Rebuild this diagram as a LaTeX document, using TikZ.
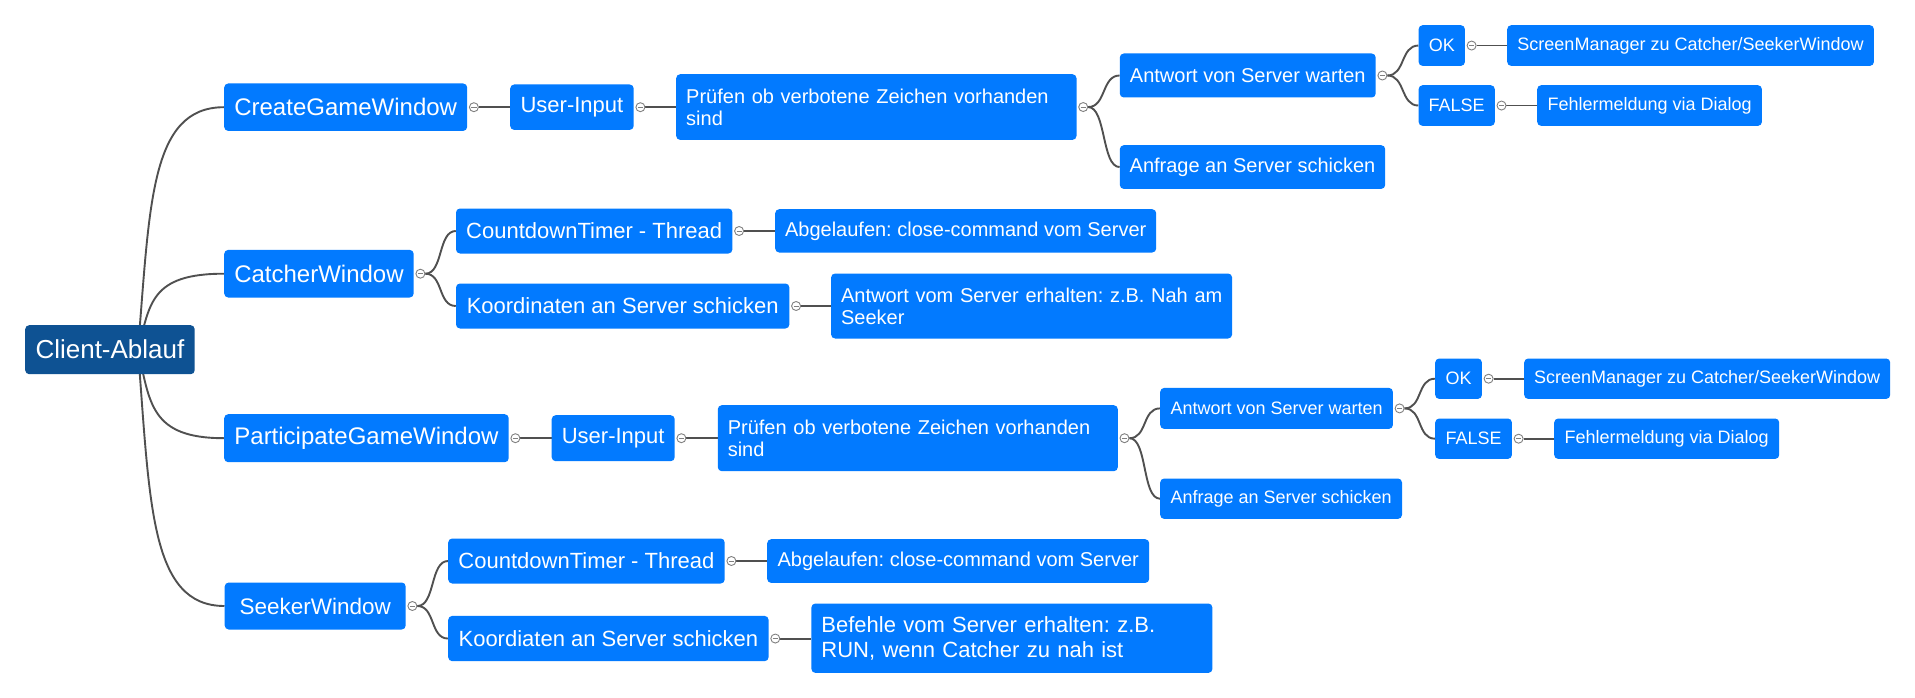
\documentclass[tikz,border=0pt]{standalone}
\usepackage{fontspec}
\setmainfont{Liberation Sans}
\usetikzlibrary{calc,backgrounds}
\definecolor{nodeblue}{RGB}{2,122,255}
\definecolor{rootblue}{RGB}{14,82,147}
\definecolor{linegray}{RGB}{80,80,80}
\definecolor{circgray}{RGB}{128,128,128}
\tikzset{
  nd/.style={fill=nodeblue, text=white, rounded corners=4pt, inner xsep=0pt, inner ysep=0pt, anchor=north west},
  fs/.style={font=\fontsize{#1}{#1}\selectfont},
  ml/.style={align=left, inner xsep=10pt},
  conn/.style={draw=linegray, line width=1.9pt},
  coll/.style={circle, draw=circgray, fill=white, line width=0.9pt, inner sep=0pt, minimum size=9pt,
    path picture={\draw[circgray, line width=1pt] ([xshift=-2.6pt]path picture bounding box.center) -- ([xshift=2.6pt]path picture bounding box.center);}},
}
\newcommand\cnode[1]{\node[coll] (#1c) at ($(#1.east)+(6.5,0)$) {};}
\newcommand\straight[2]{\draw[conn] (#1c.east) -- (#1c.east -| #2.west);}
\newcommand\fork[2]{\draw[conn] (#1c.east) .. controls +(18,0) and +(-18,0) .. (#2.west);}
\newcommand\rootcurve[1]{\draw[conn] ($(root.center)+(28,0)$) .. controls ($(root.center)!0.6!(root.center|-#1.west)+(40,0)$) and ($(root.center|-#1.west)+(40,0)$) .. (#1.west);}
\begin{document}
\frenchspacing\hyphenpenalty=10000
\begin{tikzpicture}[x=1pt,y=-1pt]
\useasboundingbox (0,0) rectangle (1915,698);
% root
\node[nd, fill=rootblue, fs=26, minimum width=169.5pt, minimum height=49pt] (root) at (25,325) {Client-Ablauf};
% level 1
\node[nd, fs=24, minimum width=243pt, minimum height=47.4pt] (cgw) at (224,83.3) {CreateGameWindow};
\node[nd, fs=24, minimum width=189.5pt, minimum height=47.6pt] (cw) at (224,249.7) {CatcherWindow};
\node[nd, fs=24, minimum width=284.5pt, minimum height=48pt] (pgw) at (224,414) {ParticipateGameWindow};
\node[nd, fs=22.5, minimum width=181pt, minimum height=47pt] (sw) at (224.5,582.3) {SeekerWindow};
% create branch
\node[nd, fs=22, minimum width=123.5pt, minimum height=45.4pt] (ui1) at (510,84.3) {User-Input};
\node[nd, ml, font=\fontsize{20}{22}\selectfont, text width=380.3pt, minimum width=400.3pt, minimum height=65.7pt] (pr1) at (676,74) {\mbox{Prüfen ob verbotene Zeichen vorhanden}\\sind};
\node[nd, fs=20, minimum width=255.9pt, minimum height=44pt] (aw1) at (1119.6,53.3) {Antwort von Server warten};
\node[nd, fs=20, minimum width=265.4pt, minimum height=43.7pt] (an1) at (1119.6,145) {Anfrage an Server schicken};
\node[nd, fs=18, minimum width=46.3pt, minimum height=40.7pt] (ok1) at (1418.4,25) {OK};
\node[nd, fs=18, minimum width=76.2pt, minimum height=40.7pt] (fa1) at (1418.4,85) {FALSE};
\node[nd, fs=18, minimum width=366.7pt, minimum height=40.7pt] (sm1) at (1507,25) {ScreenManager zu Catcher/SeekerWindow};
\node[nd, fs=18, minimum width=224.7pt, minimum height=40.7pt] (fm1) at (1537,85) {Fehlermeldung via Dialog};
% catcher branch
\node[nd, fs=22, minimum width=276.4pt, minimum height=45pt] (ct1) at (455.8,208.3) {CountdownTimer - Thread};
\node[nd, fs=20, minimum width=381pt, minimum height=43.3pt] (ab1) at (775,209) {Abgelaufen: close-command vom Server};
\node[nd, fs=22, minimum width=333.4pt, minimum height=45pt] (ko1) at (455.8,283.3) {Koordinaten an Server schicken};
\node[nd, ml, font=\fontsize{20}{22}\selectfont, text width=381pt, minimum width=401pt, minimum height=65pt] (ae1) at (830.9,273.3) {\mbox{Antwort vom Server erhalten: z.B. Nah am}\\Seeker};
% participate branch
\node[nd, fs=22, minimum width=123pt, minimum height=46pt] (ui2) at (551.5,415) {User-Input};
\node[nd, ml, font=\fontsize{20}{22}\selectfont, text width=380pt, minimum width=400pt, minimum height=66pt] (pr2) at (717.6,405) {\mbox{Prüfen ob verbotene Zeichen vorhanden}\\sind};
\node[nd, fs=18, minimum width=232.7pt, minimum height=41pt] (aw2) at (1160,387.7) {Antwort von Server warten};
\node[nd, fs=18, minimum width=241.8pt, minimum height=40.4pt] (an2) at (1160,478.3) {Anfrage an Server schicken};
\node[nd, fs=18, minimum width=46.7pt, minimum height=40.4pt] (ok2) at (1435,358.3) {OK};
\node[nd, fs=18, minimum width=76.7pt, minimum height=40.4pt] (fa2) at (1435,418.3) {FALSE};
\node[nd, fs=18, minimum width=366pt, minimum height=40.4pt] (sm2) at (1524,358.3) {ScreenManager zu Catcher/SeekerWindow};
\node[nd, fs=18, minimum width=225pt, minimum height=40.4pt] (fm2) at (1554,418.3) {Fehlermeldung via Dialog};
% seeker branch
\node[nd, fs=22, minimum width=276.5pt, minimum height=45pt] (ct2) at (448,538.3) {CountdownTimer - Thread};
\node[nd, fs=20, minimum width=382pt, minimum height=43.7pt] (ab2) at (767,539) {Abgelaufen: close-command vom Server};
\node[nd, fs=22, minimum width=320.4pt, minimum height=45.3pt] (ko2) at (448,615.7) {Koordiaten an Server schicken};
\node[nd, ml, font=\fontsize{22}{24.5}\selectfont, text width=381pt, minimum width=401pt, minimum height=69.4pt] (be2) at (811.2,603.3) {\mbox{Befehle vom Server erhalten: z.B.}\\RUN, wenn Catcher zu nah ist};
% collapse markers
\cnode{cgw}\cnode{ui1}\cnode{pr1}\cnode{aw1}\cnode{ok1}\cnode{fa1}
\cnode{cw}\cnode{ct1}\cnode{ko1}
\cnode{pgw}\cnode{ui2}\cnode{pr2}\cnode{aw2}\cnode{ok2}\cnode{fa2}
\cnode{sw}\cnode{ct2}\cnode{ko2}
\begin{pgfonlayer}{background}
\fill[white] (0,0) rectangle (1915,698);
\rootcurve{cgw}\rootcurve{cw}\rootcurve{pgw}\rootcurve{sw}
\straight{cgw}{ui1}\straight{ui1}{pr1}
\fork{pr1}{aw1}\fork{pr1}{an1}
\fork{aw1}{ok1}\fork{aw1}{fa1}
\straight{ok1}{sm1}\straight{fa1}{fm1}
\fork{cw}{ct1}\fork{cw}{ko1}
\straight{ct1}{ab1}\straight{ko1}{ae1}
\straight{pgw}{ui2}\straight{ui2}{pr2}
\fork{pr2}{aw2}\fork{pr2}{an2}
\fork{aw2}{ok2}\fork{aw2}{fa2}
\straight{ok2}{sm2}\straight{fa2}{fm2}
\fork{sw}{ct2}\fork{sw}{ko2}
\straight{ct2}{ab2}\straight{ko2}{be2}
\end{pgfonlayer}
\end{tikzpicture}
\end{document}
